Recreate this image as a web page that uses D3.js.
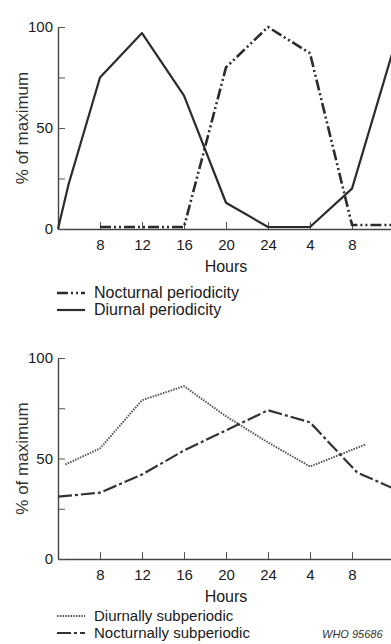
<!DOCTYPE html>
<html>
<head>
<meta charset="utf-8">
<script src="https://cdn.jsdelivr.net/npm/d3@7"></script>
<style>
  body { margin: 0; background: #fff; }
  svg { display: block; font-family: "Liberation Sans", Arial, sans-serif; }
</style>
</head>
<body>
<svg id="chart" width="391" height="644"></svg>
<script>
// hours run on from 4 h through midnight (24) to next day
var hourTicks = [8, 12, 16, 20, 24, 28, 32];
var yTicks = [0, 25, 50, 75, 100];
var yLabels = [0, 50, 100];

// top panel
var diurnalHours = [4, 5, 8, 12, 16, 20, 24, 28, 32, 36];
var diurnalValues = [0, 22, 75, 97, 66, 13, 1, 1, 20, 90];
var nocturnalHours = [8, 16, 20, 24, 28, 32, 36];
var nocturnalValues = [1, 1, 80, 100, 87, 2, 2];

// bottom panel
var diurnSubHours = [4.7, 8, 12, 16, 20, 24, 28, 33.3];
var diurnSubValues = [47, 55, 79, 86, 71, 58, 46, 57];
var noctSubHours = [4, 8, 12, 16, 20, 24, 28, 32.5, 36];
var noctSubValues = [31, 33, 42, 54, 64, 74, 68, 43, 35];

var svg = d3.select('#chart');

var x = d3.scaleLinear().domain([4, 36]).range([58, 394]);

function hourLabel(h) {
  return h === 24 ? '24' : String(h % 24);
}

function zip(hs, vs) {
  return hs.map(function (h, i) { return [h, vs[i]]; });
}

/**
 * Dibuja un panel: ejes, etiquetas y series
 */
function drawPanel(top, bottom, series, legend, legendSize) {
  var y = d3.scaleLinear().domain([0, 100]).range([bottom, top]);
  var g = svg.append('g');

  // eje x
  var xAxis = d3.axisBottom(x).tickValues(hourTicks).tickFormat(hourLabel).tickSizeInner(-7).tickSizeOuter(0);
  var gx = g.append('g').attr('transform', 'translate(0,' + bottom + ')').call(xAxis);
  gx.select('.domain').attr('stroke', '#444').attr('stroke-width', 1.4);
  gx.selectAll('.tick line').attr('stroke', '#555');
  gx.selectAll('.tick text').attr('y', 10).attr('font-size', 15).attr('fill', '#1a1a1a');

  // eje y
  var yAxis = d3.axisLeft(y).tickValues(yTicks).tickSizeInner(-7).tickSizeOuter(0)
    .tickFormat(function (d) { return yLabels.indexOf(d) >= 0 ? d : ''; });
  var gy = g.append('g').attr('transform', 'translate(58,0)').call(yAxis);
  gy.select('.domain').attr('stroke', '#444').attr('stroke-width', 1.4);
  gy.selectAll('.tick line').attr('stroke', '#555');
  gy.selectAll('.tick text').attr('x', -5).attr('font-size', 15).attr('fill', '#1a1a1a');

  g.append('text')
    .attr('transform', 'translate(28,' + ((top + bottom) / 2) + ') rotate(-90)')
    .attr('text-anchor', 'middle')
    .attr('font-size', 17)
    .attr('fill', '#333')
    .text('% of maximum');

  g.append('text')
    .attr('x', 226).attr('y', bottom + 43)
    .attr('text-anchor', 'middle')
    .attr('font-size', 16)
    .attr('fill', '#1a1a1a')
    .text('Hours');

  var line = d3.line()
    .x(function (d) { return x(d[0]); })
    .y(function (d) { return y(d[1]); });

  series.forEach(function (s) {
    g.append('path')
      .datum(s.data)
      .attr('d', line)
      .attr('fill', 'none')
      .attr('stroke', s.color)
      .attr('stroke-width', s.width)
      .attr('stroke-dasharray', s.dash)
      .attr('stroke-linejoin', 'round');
  });

  // leyenda
  legend.forEach(function (l) {
    var ly = bottom + l.dy;
    g.append('line')
      .attr('x1', 57).attr('x2', 85)
      .attr('y1', ly - 5).attr('y2', ly - 5)
      .attr('stroke', l.color)
      .attr('stroke-width', l.width)
      .attr('stroke-dasharray', l.dash);
    g.append('text')
      .attr('x', 94).attr('y', ly)
      .attr('font-size', legendSize)
      .attr('fill', '#1a1a1a')
      .text(l.label);
  });
}

var styles = {
  diurnal: { color: '#2b2b2b', width: 2.2, dash: null },
  nocturnal: { color: '#2b2b2b', width: 2.6, dash: '11,3,2,3,2,3' },
  diurnSub: { color: '#555', width: 2, dash: '1.5,1.2' },
  noctSub: { color: '#333', width: 2.2, dash: '14,3,3,3' }
};

drawPanel(27, 229, [
  Object.assign({ data: zip(diurnalHours, diurnalValues) }, styles.diurnal),
  Object.assign({ data: zip(nocturnalHours, nocturnalValues) }, styles.nocturnal)
], [
  Object.assign({ label: 'Nocturnal periodicity', dy: 69 }, styles.nocturnal),
  Object.assign({ label: 'Diurnal periodicity', dy: 86 }, styles.diurnal)
], 16);

drawPanel(358, 559, [
  Object.assign({ data: zip(diurnSubHours, diurnSubValues) }, styles.diurnSub),
  Object.assign({ data: zip(noctSubHours, noctSubValues) }, styles.noctSub)
], [
  Object.assign({ label: 'Diurnally subperiodic', dy: 62 }, styles.diurnSub),
  Object.assign({ label: 'Nocturnally subperiodic', dy: 79 }, styles.noctSub)
], 15);

svg.append('text')
  .attr('x', 322).attr('y', 638)
  .attr('font-size', 11)
  .attr('font-style', 'italic')
  .attr('fill', '#333')
  .text('WHO 95686');
</script>
</body>
</html>
